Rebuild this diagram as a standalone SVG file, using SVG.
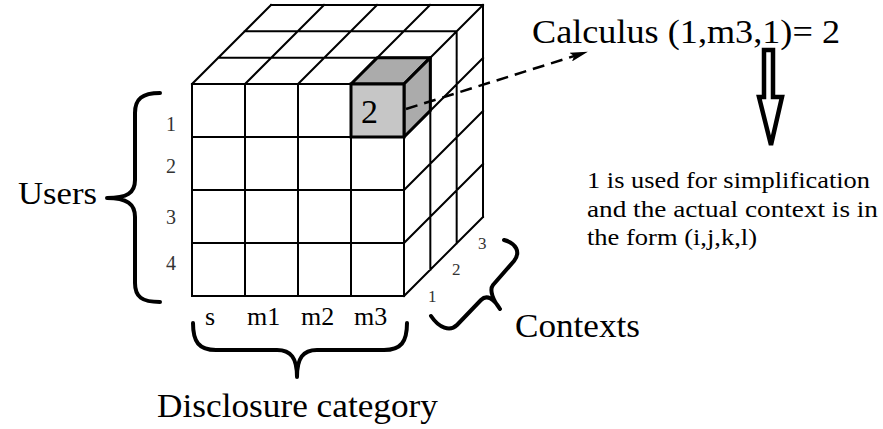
<svg xmlns="http://www.w3.org/2000/svg" width="883" height="429" viewBox="0 0 883 429" font-family="Times New Roman, Liberation Serif, serif">
<defs>
<style>
.g{stroke:#000;stroke-width:2;fill:none;stroke-linecap:square}
.br{stroke:#000;stroke-width:4;fill:none;stroke-linecap:round;stroke-linejoin:round}
.t{fill:#000}
.n{fill:#333}
</style>
<marker id="ah" viewBox="0 0 20 10" refX="19" refY="5" markerWidth="20" markerHeight="9" orient="auto" markerUnits="userSpaceOnUse">
<path d="M0,0 L20,5 L0,10 L4,5 Z" fill="#000"/>
</marker>
</defs>
<rect width="883" height="429" fill="#fff"/>
<g id="cube">
<path class="g" d="M192,84H404M218.33,57.67H430.33M244.67,31.33H456.67M271,5H483
M192,84L271,5M245,84L324,5M298,84L377,5M351,84L430,5M404,84L483,5
M404,84V296M430.33,57.67V269.67M456.67,31.33V243.33M483,5V217
M404,137L483,58M404,190L483,111M404,243L483,164M404,296L483,217
M192,84V296H404M245,84V296M298,84V296M351,84V296M192,137H404M192,190H404M192,243H404"/>
</g>
<g id="cell">
<polygon points="351,84 404,84 430.33,57.67 377.33,57.67" fill="#ababab" stroke="#000" stroke-width="3" stroke-linejoin="round"/>
<polygon points="404,84 430.33,57.67 430.33,110.67 404,137" fill="#ababab" stroke="#000" stroke-width="3" stroke-linejoin="round"/>
<rect x="351" y="84" width="53" height="53" fill="#c6c6c6" stroke="#000" stroke-width="3"/>
<text class="t" x="361" y="123" font-size="34">2</text>
</g>
<g id="users">
<text class="t" x="18" y="204" font-size="31" textLength="79" lengthAdjust="spacingAndGlyphs">Users</text>
<path class="br" d="M160,93C142,93 135,99 135,113L135,180C135,193 127,198 107,198C127,198 135,204 135,217L135,283C135,297 142,302 160,302"/>
<text class="n" x="166" y="131" font-size="20">1</text>
<text class="n" x="166" y="173" font-size="20">2</text>
<text class="n" x="166" y="224" font-size="20">3</text>
<text class="n" x="166" y="270" font-size="20">4</text>
</g>
<g id="disclosure">
<text class="t" x="205" y="325" font-size="26">s</text>
<text class="t" x="247" y="325" font-size="26">m1</text>
<text class="t" x="301" y="325" font-size="26">m2</text>
<text class="t" x="354" y="325" font-size="26">m3</text>
<path class="br" d="M193,323C193,342 199,350 216,350L277,350C291,350 297,358 297,377C297,358 303,350 317,350L384,350C401,350 407,342 407,323"/>
<text class="t" x="157" y="417" font-size="34" textLength="281" lengthAdjust="spacingAndGlyphs">Disclosure category</text>
</g>
<g id="contexts">
<text class="n" x="428" y="302" font-size="17">1</text>
<text class="n" x="452" y="275" font-size="17">2</text>
<text class="n" x="478" y="249" font-size="17">3</text>
<path class="br" d="M504,240C516,243 521,252 514,261L493,285C489,290 493,300 500,309C494,299 487,294 481,300L457,325C450,332 439,328 431,316"/>
<text class="t" x="515" y="337" font-size="34" textLength="125" lengthAdjust="spacingAndGlyphs">Contexts</text>
</g>
<g id="calculus">
<text class="t" x="532" y="43" font-size="34" textLength="308" lengthAdjust="spacingAndGlyphs">Calculus (1,m3,1)= 2</text>
</g>
<g id="note">
<text class="t" x="587" y="188" font-size="23" textLength="283" lengthAdjust="spacingAndGlyphs">1 is used for simplification</text>
<text class="t" x="587" y="217" font-size="23" textLength="291" lengthAdjust="spacingAndGlyphs">and the actual context is in</text>
<text class="t" x="587" y="245" font-size="23" textLength="170" lengthAdjust="spacingAndGlyphs">the form (i,j,k,l)</text>
</g>
<g id="connectors">
<line x1="406" y1="109" x2="587" y2="52" stroke="#000" stroke-width="2.5" stroke-dasharray="12,7" marker-end="url(#ah)"/>
<path d="M764,50L773,50L773,97L782,97L771,145L759,97L764,97Z" fill="#fff" stroke="#000" stroke-width="4.5" stroke-linejoin="miter"/>
</g>
</svg>
